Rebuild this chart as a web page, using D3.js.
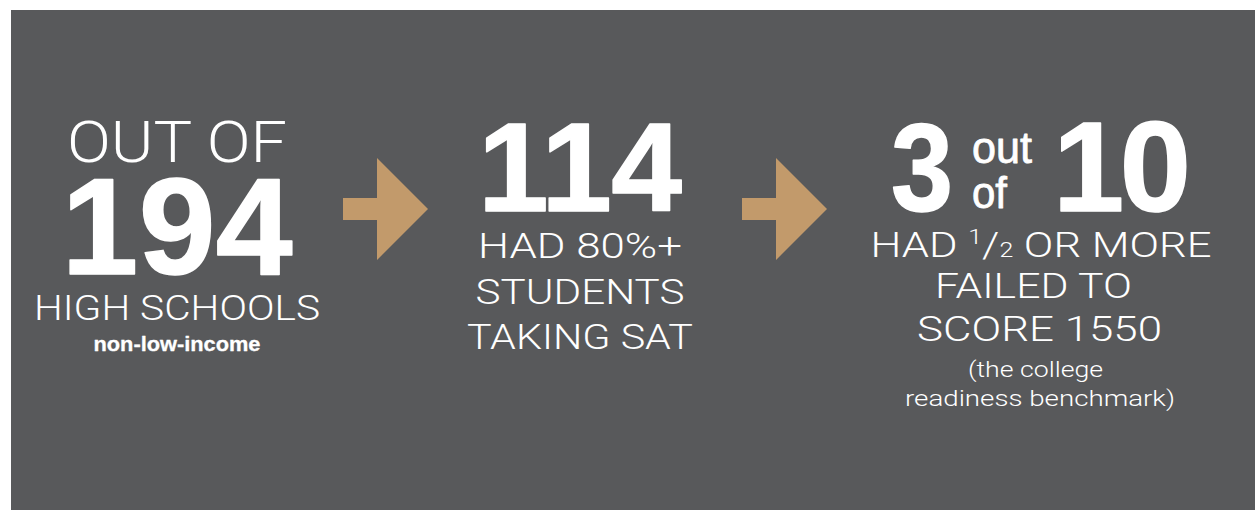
<!DOCTYPE html>
<html>
<head>
<meta charset="utf-8">
<script src="https://cdnjs.cloudflare.com/ajax/libs/d3/7.8.5/d3.min.js"></script>
<style>
  body { margin: 0; background: #fff; }
  .light { font-family: Roboto, "Liberation Sans", sans-serif; font-weight: 300; fill: #fff; }
  .big { font-family: "Liberation Sans", Arial, sans-serif; font-weight: 700; fill: #fff; stroke: #fff; stroke-linejoin: round; }
</style>
</head>
<body>
<div id="chart"></div>
<script>
// steps of the funnel
var steps = ["all", "sat", "fail"];
var headlines = ["OUT OF", "", ""];
var figures = ["194", "114", "3"];
var captions = [
  ["HIGH SCHOOLS"],
  ["HAD 80%+", "STUDENTS", "TAKING SAT"],
  ["HAD ", " OR MORE", "FAILED TO", "SCORE 1550"]
];
var notes = [["non-low-income"], [], ["(the college", "readiness benchmark)"]];
var ratioParts = ["out", "of", "10"];

let width = 1256;
let height = 510;
let svg = d3.select('#chart').append('svg')
  .attr('width', width)
  .attr('height', height)

svg.append('rect')
  .attr('x', 11).attr('y', 10)
  .attr('width', 1244).attr('height', 500)
  .attr('fill', '#58595b')

// centre of each column
let x = d3.scaleOrdinal()
  .domain(steps)
  .range([177, 580, 1041]);

// arrows between the columns
let arrowX = d3.scaleOrdinal()
  .domain(["a1", "a2"])
  .range([343, 742]);

function arrowPath(x0) {
  let p = d3.path();
  let cy = 209;
  p.moveTo(x0, cy - 11);
  p.lineTo(x0 + 34, cy - 11);
  p.lineTo(x0 + 34, cy - 51);
  p.lineTo(x0 + 85, cy);
  p.lineTo(x0 + 34, cy + 51);
  p.lineTo(x0 + 34, cy + 11);
  p.lineTo(x0, cy + 11);
  p.closePath();
  return p.toString();
}

svg.selectAll('.arrow')
  .data(arrowX.domain())
  .enter()
  .append('path').classed('arrow', true)
  .attr('d', d => arrowPath(arrowX(d)))
  .attr('fill', '#c29a6b')

// helper for thin text lines, stretched to the width they have in the original
function lightLine(str, cx, y, size, w) {
  return svg.append('text').attr('class', 'light')
    .attr('x', cx).attr('y', y)
    .attr('text-anchor', 'middle')
    .attr('textLength', w)
    .attr('lengthAdjust', 'spacingAndGlyphs')
    .style('font-size', size + 'px')
    .text(str)
}

// headline above first number
lightLine(headlines[0], x("all"), 162, 57, 220)

// big numbers
let figY = [274, 211];
let figSize = [138, 127];
let figW = [231, 204];
svg.selectAll('.fig')
  .data([0, 1])
  .enter()
  .append('text').attr('class', 'big fig')
  .attr('x', i => x(steps[i]))
  .attr('y', i => figY[i])
  .attr('text-anchor', 'middle')
  .attr('textLength', i => figW[i])
  .attr('lengthAdjust', 'spacing')
  .style('font-size', i => figSize[i] + 'px')
  .style('stroke-width', 1.5)
  .text(i => figures[i])

// 3 out of 10
let c3 = x("fail");
svg.append('text').attr('class', 'big')
  .attr('x', c3 - 150).attr('y', 211)
  .attr('textLength', 62)
  .attr('lengthAdjust', 'spacingAndGlyphs')
  .style('font-size', '124px')
  .style('stroke-width', 1.5)
  .text(figures[2])
svg.append('text').attr('class', 'big')
  .attr('x', c3 - 69).attr('y', 163)
  .attr('textLength', 60)
  .attr('lengthAdjust', 'spacingAndGlyphs')
  .style('font-size', '45px').style('font-weight', 400)
  .style('stroke-width', 0.8)
  .text(ratioParts[0])
svg.append('text').attr('class', 'big')
  .attr('x', c3 - 69).attr('y', 208)
  .attr('textLength', 35)
  .attr('lengthAdjust', 'spacingAndGlyphs')
  .style('font-size', '45px').style('font-weight', 400)
  .style('stroke-width', 0.8)
  .text(ratioParts[1])
svg.append('text').attr('class', 'big')
  .attr('x', c3 + 12).attr('y', 211)
  .attr('textLength', 138)
  .attr('lengthAdjust', 'spacing')
  .style('font-size', '128px')
  .style('stroke-width', 1.5)
  .text(ratioParts[2])

// captions
lightLine(captions[0][0], x("all"), 320, 35, 286)

let satY = [258, 304, 349];
let satW = [204, 209, 226];
captions[1].forEach(function(l, j) {
  lightLine(l, x("sat"), satY[j], 35, satW[j])
})

let half = svg.append('text').attr('class', 'light')
  .attr('x', c3).attr('y', 257)
  .attr('text-anchor', 'middle')
  .attr('textLength', 341)
  .attr('lengthAdjust', 'spacingAndGlyphs')
  .style('font-size', '35px');
half.append('tspan').text(captions[2][0]);
half.append('tspan').style('font-size', '20px').attr('dy', -13).text('1');
half.append('tspan').attr('dy', 13).text('/');
half.append('tspan').style('font-size', '20px').text('2');
half.append('tspan').text(captions[2][1]);

lightLine(captions[2][2], c3 - 7.5, 298, 35, 197)
lightLine(captions[2][3], c3 - 1.5, 341, 35, 245)

// notes
svg.append('text').attr('class', 'big')
  .attr('x', x("all")).attr('y', 351)
  .attr('text-anchor', 'middle')
  .attr('textLength', 167)
  .attr('lengthAdjust', 'spacingAndGlyphs')
  .style('font-size', '21px')
  .style('stroke-width', 0.3)
  .text(notes[0][0])

lightLine(notes[2][0], c3 - 5.5, 377, 22, 135)
lightLine(notes[2][1], c3 - 1, 406, 22, 270)
</script>
</body>
</html>
